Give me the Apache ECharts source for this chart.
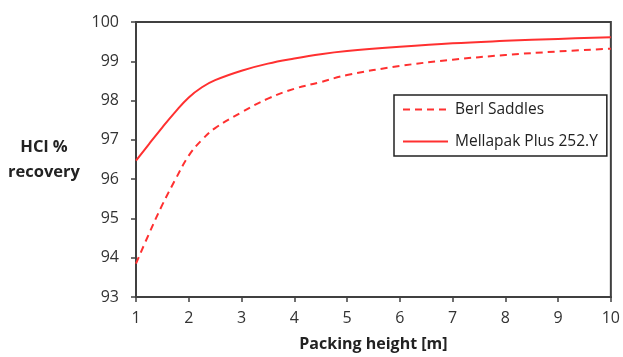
<!DOCTYPE html>
<html lang="en">
<head>
  <meta charset="UTF-8">
  <title>HCl recovery</title>
  <script src="https://cdn.jsdelivr.net/npm/echarts@6/dist/echarts.min.js"></script>
  <style>
    html, body { margin: 0; padding: 0; background: #fff; }
  </style>
</head>
<body>
  <div id="main" style="width:623px;height:357px"></div>
  <script>
    // packing height [m]
    var heights = [1, 1.25, 1.5, 1.75, 2, 2.25, 2.5, 3, 3.5, 4, 4.5, 5, 6, 7, 8, 9, 10]
    // HCl % recovery
    var berlSaddles = [93.85, 94.62, 95.35, 96.0, 96.6, 97.0, 97.3, 97.7, 98.05, 98.3, 98.47, 98.65, 98.88, 99.04, 99.16, 99.25, 99.32]
    var mellapak = [96.47, 96.9, 97.32, 97.72, 98.08, 98.34, 98.52, 98.76, 98.94, 99.07, 99.18, 99.26, 99.37, 99.46, 99.52, 99.57, 99.61]

    function pairs(ys) {
      return heights.map(function (x, i) { return [x, ys[i]] })
    }

    var red = '#ff3030'
    var axisColor = '#404040'
    var font = 'Open Sans, Noto Sans, sans-serif'

    var myChart = echarts.init(document.getElementById('main'))

    var option = {
      animation: false,
      grid: {
        left: 136, right: 11, top: 22, bottom: 59,
        show: true, borderColor: axisColor, borderWidth: 2
      },
      legend: {
        orient: 'vertical',
        left: 394, top: 95,
        padding: [6, 9, 6, 8],
        itemGap: 15,
        itemWidth: 45,
        itemHeight: 17,
        borderColor: '#222',
        borderWidth: 1.5,
        itemStyle: { opacity: 0 },
        textStyle: { fontFamily: font, fontSize: 15.5, color: '#222', lineHeight: 17, padding: [0, 0, 0, 2] },
        data: ['Berl Saddles', 'Mellapak Plus 252.Y']
      },
      xAxis: {
        type: 'value',
        min: 1, max: 10, interval: 1,
        name: 'Packing height [m]',
        nameLocation: 'middle',
        nameGap: 39,
        nameTextStyle: { fontFamily: font, fontSize: 16, fontWeight: 'bold', color: '#222' },
        axisLine: { show: true, lineStyle: { color: axisColor, width: 2 } },
        axisTick: { show: true, length: 5, lineStyle: { color: axisColor, width: 1.5 } },
        axisLabel: { fontFamily: font, fontSize: 16, color: '#333', margin: 13 },
        splitLine: { show: false }
      },
      yAxis: {
        type: 'value',
        min: 93, max: 100, interval: 1,
        name: 'HCl %\nrecovery',
        nameLocation: 'middle',
        nameRotate: 0,
        nameGap: 92,
        nameTextStyle: { fontFamily: font, fontSize: 16.5, fontWeight: 'bold', color: '#222', lineHeight: 25, align: 'center', padding: [6, 0, 0, 0] },
        axisLine: { show: true, lineStyle: { color: axisColor, width: 2 } },
        axisTick: { show: true, length: 5, lineStyle: { color: axisColor, width: 1.5 } },
        axisLabel: { fontFamily: font, fontSize: 16, color: '#333', margin: 17 },
        splitLine: { show: false }
      },
      series: [
        {
          name: 'Berl Saddles',
          type: 'line',
          data: pairs(berlSaddles),
          smooth: 0.4,
          symbol: 'none',
          itemStyle: { color: red },
          lineStyle: { color: red, width: 2, type: [7, 5] }
        },
        {
          name: 'Mellapak Plus 252.Y',
          type: 'line',
          data: pairs(mellapak),
          smooth: 0.4,
          symbol: 'none',
          itemStyle: { color: red },
          lineStyle: { color: red, width: 2 }
        }
      ]
    }

    myChart.setOption(option)
  </script>
</body>
</html>
